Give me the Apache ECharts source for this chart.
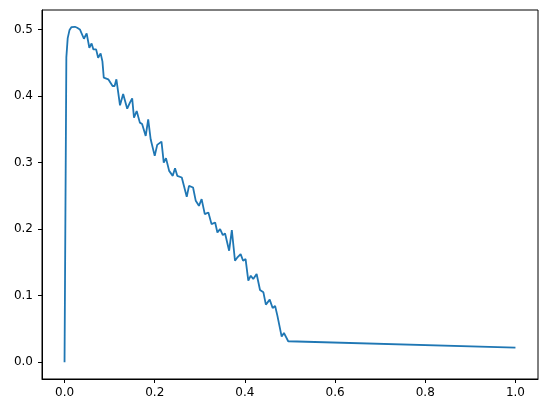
<!DOCTYPE html>
<html>
<head>
<meta charset="utf-8">
<script src="https://cdn.jsdelivr.net/npm/echarts@6/dist/echarts.min.js"></script>
<style>html,body{margin:0;padding:0;background:#fff}#c{width:547px;height:413px}</style>
</head>
<body>
<div id="c"></div>
<script>
const xValues = [0, 0.004, 0.007, 0.011, 0.0155, 0.023, 0.028, 0.034, 0.038, 0.043, 0.049, 0.055, 0.060, 0.064, 0.070, 0.0745, 0.080, 0.084, 0.087, 0.097, 0.1065, 0.111, 0.115, 0.123, 0.130, 0.139, 0.145, 0.150, 0.154, 0.160, 0.167, 0.172, 0.180, 0.1855, 0.191, 0.200, 0.2055, 0.215, 0.220, 0.225, 0.232, 0.240, 0.245, 0.250, 0.260, 0.271, 0.276, 0.285, 0.291, 0.298, 0.304, 0.311, 0.319, 0.326, 0.334, 0.339, 0.345, 0.351, 0.356, 0.365, 0.371, 0.378, 0.384, 0.3905, 0.396, 0.4015, 0.4075, 0.413, 0.4185, 0.426, 0.4335, 0.441, 0.4465, 0.455, 0.4615, 0.467, 0.472, 0.476, 0.4815, 0.4865, 0.496, 1.0];
const yValues = [0, 0.458, 0.487, 0.499, 0.5035, 0.504, 0.5025, 0.500, 0.497, 0.486, 0.494, 0.4725, 0.479, 0.470, 0.470, 0.4575, 0.464, 0.452, 0.4275, 0.425, 0.415, 0.415, 0.425, 0.386, 0.403, 0.381, 0.390, 0.3965, 0.3675, 0.3775, 0.360, 0.358, 0.340, 0.365, 0.335, 0.310, 0.3265, 0.3315, 0.300, 0.3065, 0.2875, 0.280, 0.2915, 0.280, 0.2775, 0.2485, 0.265, 0.2625, 0.2425, 0.235, 0.245, 0.2225, 0.225, 0.2075, 0.210, 0.195, 0.200, 0.191, 0.1935, 0.1675, 0.1985, 0.1525, 0.158, 0.1625, 0.1525, 0.155, 0.1225, 0.130, 0.125, 0.1325, 0.1085, 0.105, 0.0865, 0.094, 0.0815, 0.0845, 0.070, 0.070, 0.0385, 0.044, 0.0315, 0.022];
const xTicks = [0, 0.2, 0.4, 0.6, 0.8, 1.0];
const yTicks = [0, 0.1, 0.2, 0.3, 0.4, 0.5];

const data = xValues.map((x, i) => [x, yValues[i]]);
const yMax = Math.max(...yValues), yMin = Math.min(...yValues);
const yPad = (yMax - yMin) * 0.05;
const font = 'DejaVu Sans';

const chart = echarts.init(document.getElementById('c'), null, {renderer: 'canvas'});
chart.setOption({
  animation: false,
  grid: {left: 42, right: 9, top: 10, bottom: 34, show: true, borderColor: '#000', borderWidth: 1, containLabel: false},
  xAxis: {
    type: 'value', min: -0.05, max: 1.05,
    axisLine: {show: true, onZero: false, lineStyle: {color: '#000', width: 1}},
    axisTick: {show: true, inside: false, length: 4, customValues: xTicks, lineStyle: {color: '#000'}},
    axisLabel: {customValues: xTicks, margin: 8, color: '#000', fontFamily: font, fontSize: 12,
      formatter: v => v.toFixed(1)},
    splitLine: {show: false}
  },
  yAxis: {
    type: 'value', min: yMin - yPad, max: yMax + yPad,
    axisLine: {show: true, onZero: false, lineStyle: {color: '#000', width: 1}},
    axisTick: {show: true, inside: false, length: 4, customValues: yTicks, lineStyle: {color: '#000'}},
    axisLabel: {customValues: yTicks, margin: 9, color: '#000', fontFamily: font, fontSize: 12,
      formatter: v => v.toFixed(1)},
    splitLine: {show: false}
  },
  series: [{
    type: 'line', data: data, showSymbol: false, symbol: 'none',
    lineStyle: {color: '#1f77b4', width: 1.8}, clip: true
  }]
});
</script>
</body>
</html>
